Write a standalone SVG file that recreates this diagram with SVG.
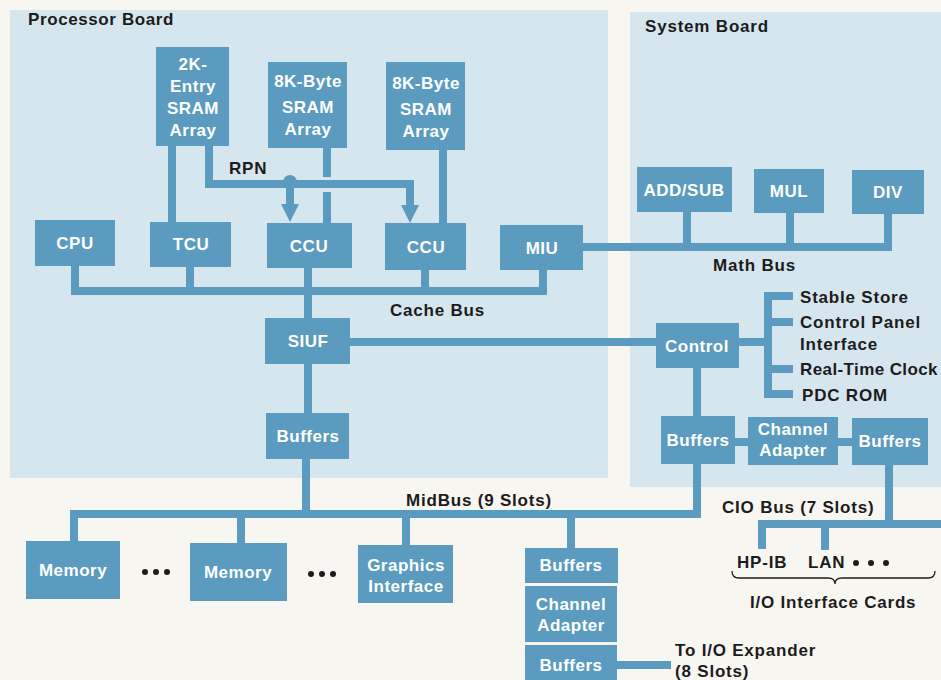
<svg xmlns="http://www.w3.org/2000/svg" width="941" height="680" viewBox="0 0 941 680">
<style>
.panel{fill:#d6e6ef}
.box{fill:#5b9bbf}
.bt{font-family:"Liberation Sans",Arial,Helvetica,sans-serif;font-size:17px;font-weight:bold;fill:#ffffff;text-anchor:middle;letter-spacing:0.5px}
.lt{font-family:"Liberation Sans",Arial,Helvetica,sans-serif;font-size:17px;font-weight:bold;fill:#1c1c1c;letter-spacing:0.8px}
.ln{fill:none;stroke:#5b9bbf;stroke-width:8;stroke-linejoin:miter;stroke-linecap:butt}
.ar{fill:#5b9bbf}
.br{fill:none;stroke:#1c1c1c;stroke-width:1.3}
</style>
<rect x="0" y="0" width="941" height="680" fill="#f8f6f1"/>
<g id="processor-board">
<rect class="panel" x="10" y="10" width="598" height="468"/>
<text class="lt" x="28" y="25" style="letter-spacing:0.6px">Processor Board</text>
</g>
<g id="system-board">
<rect class="panel" x="630" y="12" width="311" height="475"/>
<text class="lt" x="645" y="32" style="letter-spacing:0.8px">System Board</text>
</g>
<g id="connectors">
<path class="ln" d="M75,266 V291 H543 V270"/>
<path class="ln" d="M190,267 V291"/>
<path class="ln" d="M308,268 V318"/>
<path class="ln" d="M425,270 V291"/>
<path class="ln" d="M172,146 V222"/>
<path class="ln" d="M209,146 V184 H414"/>
<path class="ln" d="M410,184 V207"/>
<polygon class="ar" points="401,205 419,205 410,223"/>
<path class="ln" d="M290,184 V206"/>
<polygon class="ar" points="281,204 299,204 290,222"/>
<circle class="ar" cx="290" cy="182" r="7"/>
<path class="ln" d="M327,148 V177"/>
<path class="ln" d="M327,192 V223"/>
<path class="ln" d="M443,150 V224"/>
<path class="ln" d="M583,247 H888 V214"/>
<path class="ln" d="M687,212 V247"/>
<path class="ln" d="M790,213 V247"/>
<path class="ln" d="M350,342 H656"/>
<path class="ln" d="M739,342 H768"/>
<path class="ln" d="M793,296 H768 V394 H793"/>
<path class="ln" d="M768,322 H793"/>
<path class="ln" d="M768,369 H793"/>
<path class="ln" d="M308,364 V413"/>
<path class="ln" d="M306,459 V514"/>
<path class="ln" d="M74,541 V514 H697 V464"/>
<path class="ln" d="M241,514 V543"/>
<path class="ln" d="M406,514 V545"/>
<path class="ln" d="M571,514 V548"/>
<path class="ln" d="M697,368 V416"/>
<path class="ln" d="M735,442 H748"/>
<path class="ln" d="M838,442 H852"/>
<path class="ln" d="M889,465 V524"/>
<path class="ln" d="M762,549 V524 H941"/>
<path class="ln" d="M825,524 V550"/>
<path class="ln" d="M617,665 H671"/>
<path class="br" d="M732,571 Q732,578 739,578 H828 Q835,578 835,584 Q835,578 842,578 H928 Q935,578 935,571"/>
</g>
<g id="sram-2k">
<rect class="box" x="156" y="47" width="73" height="99"/>
<text class="bt" x="193" y="70">2K-</text>
<text class="bt" x="193" y="92">Entry</text>
<text class="bt" x="193" y="114">SRAM</text>
<text class="bt" x="193" y="136">Array</text>
</g>
<g id="sram-8k-1">
<rect class="box" x="268" y="62" width="79" height="86"/>
<text class="bt" x="308" y="87">8K-Byte</text>
<text class="bt" x="308" y="113">SRAM</text>
<text class="bt" x="308" y="135">Array</text>
</g>
<g id="sram-8k-2">
<rect class="box" x="386" y="62" width="79" height="88"/>
<text class="bt" x="426" y="89">8K-Byte</text>
<text class="bt" x="426" y="115">SRAM</text>
<text class="bt" x="426" y="137">Array</text>
</g>
<text class="lt" x="229" y="174">RPN</text>
<g id="cpu"><rect class="box" x="35" y="220" width="80" height="46"/><text class="bt" x="75" y="249">CPU</text></g>
<g id="tcu"><rect class="box" x="150" y="222" width="81" height="45"/><text class="bt" x="191" y="250">TCU</text></g>
<g id="ccu-1"><rect class="box" x="267" y="223" width="85" height="45"/><text class="bt" x="309" y="252">CCU</text></g>
<g id="ccu-2"><rect class="box" x="385" y="223" width="81" height="47"/><text class="bt" x="426" y="253">CCU</text></g>
<g id="miu"><rect class="box" x="500" y="225" width="83" height="45"/><text class="bt" x="542" y="254">MIU</text></g>
<g id="addsub"><rect class="box" x="637" y="167" width="95" height="45"/><text class="bt" x="684" y="196">ADD/SUB</text></g>
<g id="mul"><rect class="box" x="754" y="169" width="70" height="44"/><text class="bt" x="789" y="197">MUL</text></g>
<g id="div"><rect class="box" x="852" y="170" width="72" height="44"/><text class="bt" x="888" y="198">DIV</text></g>
<text class="lt" x="713" y="271">Math Bus</text>
<text class="lt" x="390" y="316">Cache Bus</text>
<g id="siuf"><rect class="box" x="265" y="318" width="85" height="46"/><text class="bt" x="308" y="347">SIUF</text></g>
<g id="control"><rect class="box" x="656" y="323" width="83" height="45"/><text class="bt" x="697" y="352">Control</text></g>
<text class="lt" x="800" y="303">Stable Store</text>
<text class="lt" x="800" y="328">Control Panel</text>
<text class="lt" x="800" y="350">Interface</text>
<text class="lt" x="800" y="375" style="letter-spacing:0.4px">Real-Time Clock</text>
<text class="lt" x="802" y="401">PDC ROM</text>
<g id="buffers-proc"><rect class="box" x="266" y="413" width="83" height="46"/><text class="bt" x="308" y="442">Buffers</text></g>
<g id="buffers-sys-1"><rect class="box" x="661" y="416" width="74" height="48"/><text class="bt" x="698" y="446">Buffers</text></g>
<g id="channel-adapter-sys"><rect class="box" x="748" y="417" width="90" height="48"/><text class="bt" x="793" y="435">Channel</text><text class="bt" x="793" y="456">Adapter</text></g>
<g id="buffers-sys-2"><rect class="box" x="852" y="418" width="76" height="47"/><text class="bt" x="890" y="447">Buffers</text></g>
<text class="lt" x="406" y="506">MidBus (9 Slots)</text>
<text class="lt" x="722" y="513">CIO Bus (7 Slots)</text>
<g id="memory-1"><rect class="box" x="26" y="541" width="94" height="58"/><text class="bt" x="73" y="576">Memory</text></g>
<g id="memory-2"><rect class="box" x="190" y="543" width="97" height="58"/><text class="bt" x="238" y="578">Memory</text></g>
<g id="graphics"><rect class="box" x="358" y="545" width="95" height="58"/><text class="bt" x="406" y="571">Graphics</text><text class="bt" x="406" y="592">Interface</text></g>
<g id="dots">
<circle cx="145" cy="572" r="3" fill="#1c1c1c"/><circle cx="156" cy="572" r="3" fill="#1c1c1c"/><circle cx="167" cy="572" r="3" fill="#1c1c1c"/>
<circle cx="311" cy="574" r="3" fill="#1c1c1c"/><circle cx="322" cy="574" r="3" fill="#1c1c1c"/><circle cx="333" cy="574" r="3" fill="#1c1c1c"/>
<circle cx="856" cy="563" r="3" fill="#1c1c1c"/><circle cx="871" cy="563" r="3" fill="#1c1c1c"/><circle cx="886" cy="563" r="3" fill="#1c1c1c"/>
</g>
<g id="buffers-exp-1"><rect class="box" x="525" y="548" width="93" height="35"/><text class="bt" x="571" y="571">Buffers</text></g>
<g id="channel-adapter-exp"><rect class="box" x="525" y="586" width="92" height="56"/><text class="bt" x="571" y="610">Channel</text><text class="bt" x="571" y="631">Adapter</text></g>
<g id="buffers-exp-2"><rect class="box" x="525" y="645" width="92" height="35"/><text class="bt" x="571" y="671">Buffers</text></g>
<text class="lt" x="675" y="656">To I/O Expander</text>
<text class="lt" x="675" y="677">(8 Slots)</text>
<text class="lt" x="737" y="568">HP-IB</text>
<text class="lt" x="808" y="568">LAN</text>
<text class="lt" x="750" y="608">I/O Interface Cards</text>
</svg>
